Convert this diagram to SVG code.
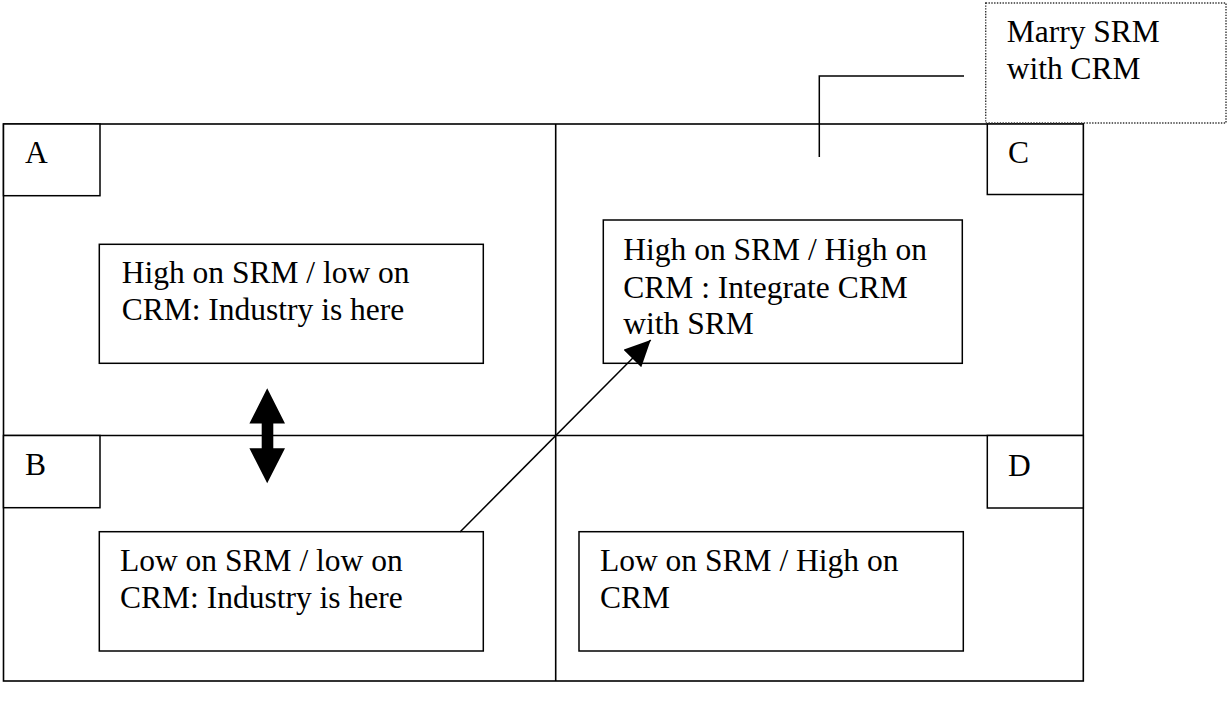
<svg xmlns="http://www.w3.org/2000/svg" width="1228" height="702" viewBox="0 0 1228 702">
  <style>
    .frame { fill: none; stroke: #000; stroke-width: 1.6; }
    .box { fill: #fff; stroke: #000; stroke-width: 1.5; }
    .callout { fill: #fff; stroke: #333; stroke-width: 1.4; stroke-dasharray: 1.4 1.4; }
    .txt { font-family: "Liberation Serif", "Times New Roman", serif; font-size: 31.5px; fill: #000; }
    .conn { fill: none; stroke: #000; stroke-width: 1.5; }
  </style>
  <defs>
    <marker id="arrowHead" markerUnits="userSpaceOnUse" markerWidth="26" markerHeight="25" refX="26" refY="12.5" orient="auto">
      <path d="M0,0 L26,12.5 L0,25 Z" fill="#000"/>
    </marker>
  </defs>
  <rect width="1228" height="702" fill="#fff"/>

  <g id="grid">
    <rect class="frame" x="3.5" y="124" width="1079.8" height="557"/>
    <line class="frame" x1="3.5" y1="435.5" x2="1083.3" y2="435.5"/>
    <line class="frame" x1="555.7" y1="124" x2="555.7" y2="681"/>
  </g>

  <g id="cornerA">
    <rect class="box" x="3.5" y="124" width="96.5" height="71.7"/>
    <text class="txt" x="25" y="163.3">A</text>
  </g>
  <g id="cornerB">
    <rect class="box" x="3.5" y="435.5" width="96.5" height="72.2"/>
    <text class="txt" x="25" y="475">B</text>
  </g>
  <g id="cornerC">
    <rect class="box" x="987.3" y="124" width="96" height="70.5"/>
    <text class="txt" x="1008" y="163.3">C</text>
  </g>
  <g id="cornerD">
    <rect class="box" x="987.3" y="435.5" width="96" height="72.5"/>
    <text class="txt" x="1008" y="475.7">D</text>
  </g>

  <g id="boxHighLow">
    <rect class="box" x="99.3" y="244.3" width="384" height="119"/>
    <text class="txt" x="121.7" y="283.3">High on SRM / low on</text>
    <text class="txt" x="121.7" y="320">CRM: Industry is here</text>
  </g>
  <g id="boxHighHigh">
    <rect class="box" x="603.3" y="220" width="359" height="143.3"/>
    <text class="txt" x="623.3" y="260">High on SRM / High on</text>
    <text class="txt" x="623.3" y="297.5">CRM : Integrate CRM</text>
    <text class="txt" x="623.3" y="334">with SRM</text>
  </g>
  <g id="boxLowLow">
    <rect class="box" x="99.3" y="531.7" width="384" height="119.3"/>
    <text class="txt" x="120" y="571">Low on SRM / low on</text>
    <text class="txt" x="120" y="608">CRM: Industry is here</text>
  </g>
  <g id="boxLowHigh">
    <rect class="box" x="579" y="531.7" width="384.3" height="119.3"/>
    <text class="txt" x="600" y="571">Low on SRM / High on</text>
    <text class="txt" x="600" y="608">CRM</text>
  </g>

  <g id="calloutMarry">
    <rect class="callout" x="985.7" y="3" width="240.3" height="120"/>
    <text class="txt" x="1006.7" y="41.7">Marry SRM</text>
    <text class="txt" x="1006.7" y="79">with CRM</text>
  </g>

  <g id="connectors">
    <polyline class="conn" points="964,76 819.3,76 819.3,157"/>
    <line class="conn" x1="460" y1="532" x2="650.7" y2="340" marker-end="url(#arrowHead)"/>
    <polygon fill="#000" points="267.2,388.3 285,423.5 273.3,423.5 273.3,448.3 285,448.3 267.2,483.3 249.4,448.3 261.7,448.3 261.7,423.5 249.4,423.5"/>
  </g>
</svg>
